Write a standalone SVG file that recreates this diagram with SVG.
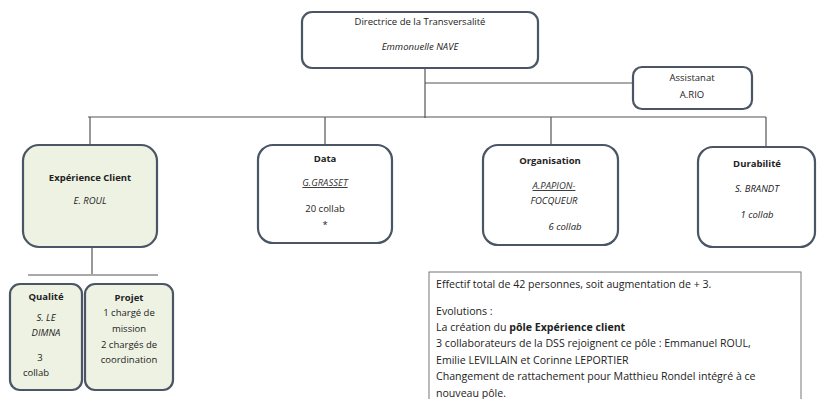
<svg xmlns="http://www.w3.org/2000/svg" width="821" height="399" viewBox="0 0 821 399">
<style>
.box{fill:#fff;stroke:#4a5566;stroke-width:2.2}
.g{fill:#eef2e2}
.ln{stroke:#555;stroke-width:1.2;fill:none}
text{font-family:"Open Sans","Liberation Sans",sans-serif;font-size:9.5px;fill:#222;text-anchor:middle}
.b{font-weight:bold}
.i{font-style:italic}
.u{text-decoration:underline;fill:#333}
.note{text-anchor:start;font-size:10.6px}
</style>
<rect width="821" height="399" fill="#fff"/>
<g id="connectors">
<path class="ln" d="M425 68V83H633M425 83V118M88 117H766M90 117V145M325 117V145M551 117V145M766 117V147M92 247V274M28 275H158"/>
</g>
<g id="directrice">
<rect class="box" x="302" y="12" width="236" height="56" rx="10"/>
<text x="420" y="25">Directrice de la Transversalité</text>
<text class="i" x="420" y="50">Emmonuelle NAVE</text>
</g>
<g id="assistanat">
<rect class="box" x="633" y="67" width="119" height="42" rx="9"/>
<text x="692" y="81">Assistanat</text>
<text x="692" y="98">A.RIO</text>
</g>
<g id="experience">
<rect class="box g" x="23" y="145" width="134" height="102" rx="16"/>
<text class="b" x="90" y="181">Expérience Client</text>
<text class="i" x="90" y="204">E. ROUL</text>
</g>
<g id="data">
<rect class="box" x="258" y="145" width="134" height="98" rx="15"/>
<text class="b" x="325" y="162">Data</text>
<text class="i u" x="325" y="186">G.GRASSET</text>
<text x="325" y="212">20 collab</text>
<text x="325" y="228">*</text>
</g>
<g id="organisation">
<rect class="box" x="483" y="145" width="135" height="100" rx="15"/>
<text class="b" x="550" y="164">Organisation</text>
<text class="i u" x="554" y="189">A.PAPION-</text>
<text class="i" x="554" y="204">FOCQUEUR</text>
<text class="i" x="565" y="230">6 collab</text>
</g>
<g id="durabilite">
<rect class="box" x="698" y="147" width="117" height="100" rx="15"/>
<text class="b" x="757" y="167">Durabilité</text>
<text class="i" x="757" y="192">S. BRANDT</text>
<text class="i" x="757" y="218">1 collab</text>
</g>
<g id="qualite">
<rect class="box g" x="10" y="284" width="72" height="106" rx="10"/>
<text class="b" x="46" y="300">Qualité</text>
<text class="i" x="46" y="321">S. LE</text>
<text class="i" x="46" y="336">DIMNA</text>
<text x="40" y="361">3</text>
<text x="36" y="376">collab</text>
</g>
<g id="projet">
<rect class="box g" x="85" y="284" width="88" height="106" rx="10"/>
<text class="b" x="129" y="301">Projet</text>
<text x="129" y="316">1 chargé de</text>
<text x="129" y="332">mission</text>
<text x="129" y="348">2 chargés de</text>
<text x="129" y="363">coordination</text>
</g>
<g id="note">
<rect x="429" y="272" width="372" height="140" fill="#fff" stroke="#777" stroke-width="1"/>
<text class="note" x="436" y="288">Effectif total de 42 personnes, soit augmentation de + 3.</text>
<text class="note" x="436" y="315">Evolutions :</text>
<text class="note" x="436" y="331">La création du <tspan class="b">pôle Expérience client</tspan></text>
<text class="note" x="436" y="347">3 collaborateurs de la DSS rejoignent ce pôle : Emmanuel ROUL,</text>
<text class="note" x="436" y="364">Emilie LEVILLAIN et Corinne LEPORTIER</text>
<text class="note" x="436" y="380">Changement de rattachement pour Matthieu Rondel intégré à ce</text>
<text class="note" x="436" y="397">nouveau pôle.</text>
</g>
</svg>
